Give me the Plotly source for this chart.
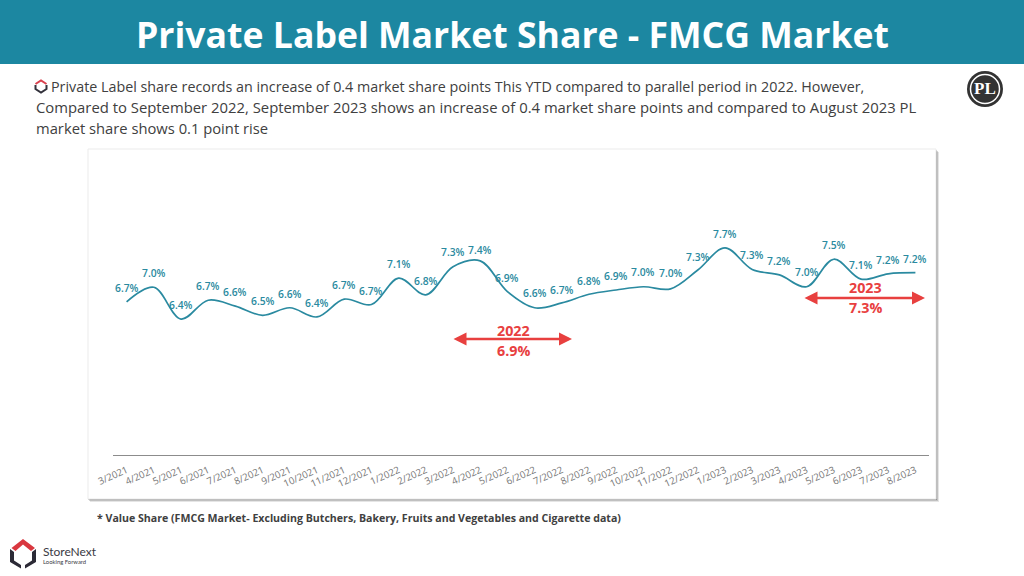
import plotly.graph_objects as go

months = ["3/2021","4/2021","5/2021","6/2021","7/2021","8/2021","9/2021","10/2021","11/2021","12/2021",
          "1/2022","2/2022","3/2022","4/2022","5/2022","6/2022","7/2022","8/2022","9/2022","10/2022",
          "11/2022","12/2022","1/2023","2/2023","3/2023","4/2023","5/2023","6/2023","7/2023","8/2023"]
share = [6.70,6.97,6.38,6.73,6.62,6.45,6.59,6.42,6.75,6.65,7.14,6.83,7.35,7.46,6.89,6.59,6.68,6.84,6.92,6.98,
         6.94,7.29,7.70,7.30,7.20,6.98,7.49,7.12,7.22,7.24]
share_labels = ["6.7%","7.0%","6.4%","6.7%","6.6%","6.5%","6.6%","6.4%","6.7%","6.7%","7.1%","6.8%","7.3%","7.4%","6.9%",
                "6.6%","6.7%","6.8%","6.9%","7.0%","7.0%","7.3%","7.7%","7.3%","7.2%","7.0%","7.5%","7.1%","7.2%","7.2%"]
# label placement, px above the point
label_lift = [14,14,14,14,14,14,14,14,14,14,14,14,15,11,14,15,13,13,14,15,16,13,14,14,14,15,14,14,14,14]

W, H = 1024, 576
TEAL = "#1c87a1"
LINE = "#2a8aa0"
RED = "#e8403f"
TXT = "#404040"
BODY = "Open Sans"
px = lambda v: v / W
py = lambda v: 1 - v / H

fig = go.Figure(go.Scatter(x=months, y=share, mode="lines",
                           line=dict(color=LINE, width=1.7, shape="spline", smoothing=1.0),
                           hoverinfo="skip"))

def rect(x0, y0, x1, y1, fill, line=None, op=1.0, layer="below"):
    return dict(type="rect", xref="paper", yref="paper", x0=px(x0), x1=px(x1), y0=py(y0), y1=py(y1),
                fillcolor=fill, opacity=op, layer=layer,
                line=dict(color=line or fill, width=1 if line else 0))

def poly(points, fill=None, stroke=None, width=0, layer="above"):
    d = "M " + " L ".join(f"{px(a):.5f},{py(b):.5f}" for a, b in points)
    if fill:
        d += " Z"
    return dict(type="path", xref="paper", yref="paper", path=d, layer=layer,
                fillcolor=fill or "rgba(0,0,0,0)",
                line=dict(color=stroke or "rgba(0,0,0,0)", width=width))

def circle(cx, cy, r, fill, stroke=None, width=0):
    return dict(type="circle", xref="paper", yref="paper", x0=px(cx-r), x1=px(cx+r), y0=py(cy+r), y1=py(cy-r),
                fillcolor=fill, layer="above", line=dict(color=stroke or fill, width=width))

shapes = [
    rect(0, 0, 1024, 64, TEAL),
    rect(90, 152, 939, 502, "#000000", op=0.10),
    rect(89, 151, 938, 501, "#000000", op=0.16),
    rect(88, 150, 937, 500, "#000000", op=0.24),
    rect(88, 149, 936, 499, "#ffffff", line="#ebebeb"),
    # bullet icon
    poly([(35.5,84),(41,80.5),(46.5,84)], stroke="#d9414e", width=2),
    poly([(35.5,85),(35.5,89),(41,92.5),(46.5,89),(46.5,85)], stroke="#33323c", width=2),
    # PL badge
    circle(985, 89, 18, "#333333"),
    circle(985, 89, 14.5, "#333333", stroke="#ffffff", width=1.5),
    # StoreNext logo
    poly([(11.5,548),(23,539),(35,548),(31,551),(23,544.5),(15.5,551)], fill="#d9373f"),
    poly([(10,549),(14,552),(14,560.5),(21,565),(21,568.5),(10,562)], fill="#2c2a36"),
    poly([(36,549),(32,552),(32,560.5),(25,565),(25,568.5),(36,562)], fill="#2c2a36"),
]

annotations = []
def note(text, x, y, size, color=TXT, bold=False, anchor="center", family=BODY):
    annotations.append(dict(text=f"<b>{text}</b>" if bold else text, xref="paper", yref="paper",
                            x=px(x), y=py(y), xanchor=anchor, yanchor="middle", showarrow=False,
                            font=dict(size=size, color=color, family=family)))

note("Private Label Market Share - FMCG Market", 512, 34, 35.6, "#ffffff", True)
note("Private Label share records an increase of 0.4 market share points This YTD compared to parallel period in 2022. However,", 49, 86, 14.3, anchor="left")
note("Compared to September 2022, September 2023 shows an increase of 0.4 market share points and compared to August 2023 PL", 34, 107, 14.85, anchor="left")
note("market share shows 0.1 point rise", 34, 128, 14.75, anchor="left")
note("* Value Share (FMCG Market- Excluding Butchers, Bakery, Fruits and Vegetables and Cigarette data)", 95, 518, 10.6, "#404040", True, anchor="left")
note("PL", 985, 89, 17, "#ffffff", True, family="Liberation Serif")
note("StoreNext", 41, 551, 12, "#3a3a44", anchor="left", family="Lato")
note("Looking Forward", 41, 561, 5.9, "#3a3a44", anchor="left", family="Lato")
note("2022", 513, 330, 14.3, RED, True)
note("6.9%", 513, 350, 14.3, RED, True)
note("2023", 865, 287, 14.3, RED, True)
note("7.3%", 865, 307, 14.3, RED, True)

for x0, x1, y in [(452, 572, 339), (803, 925, 298)]:
    annotations.append(dict(xref="paper", yref="paper", x=px(x1), y=py(y), text="",
                            axref="pixel", ayref="pixel", ax=x0 - x1, ay=0,
                            showarrow=True, arrowside="end+start", arrowhead=2,
                            arrowsize=1.0, arrowwidth=2.6, arrowcolor=RED))

for m, v, t, lift in zip(months, share, share_labels, label_lift):
    annotations.append(dict(x=m, y=v, xref="x", yref="y", text=t, showarrow=False,
                            yshift=lift, font=dict(size=10.3, color=LINE, family=BODY, weight=600)))

fig.update_layout(
    width=W, height=H, autosize=False, margin=dict(l=0, r=0, t=0, b=0, autoexpand=False),
    paper_bgcolor="#ffffff", plot_bgcolor="rgba(0,0,0,0)", showlegend=False,
    shapes=shapes, annotations=annotations,
    xaxis=dict(domain=[px(113), px(929)], type="category", range=[-0.5, 29.5],
               tickmode="array", tickvals=months, ticktext=months, tickangle=-24,
               tickfont=dict(size=9.7, color="#777777", family=BODY), ticks="",
               ticklabelstandoff=5,
               showline=True, linecolor="#8c8c8c", linewidth=1, showgrid=False, zeroline=False),
    yaxis=dict(domain=[py(455), py(160)], range=[3.86, 9.33], visible=False, showgrid=False, zeroline=False),
)
fig.write_html("out.html", config=dict(displayModeBar=False),
               post_script="document.body.style.margin='0';")
